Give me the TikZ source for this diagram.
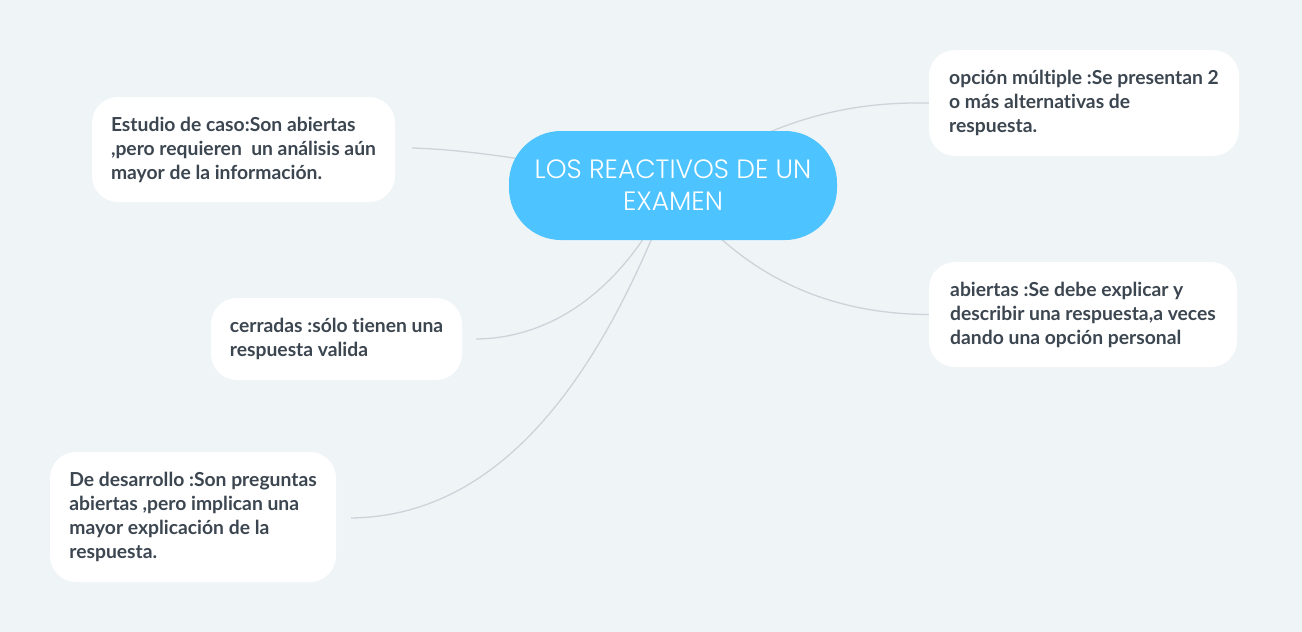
\documentclass[tikz,border=0pt]{standalone}
\usepackage{fontspec}
\setmainfont[Ligatures=NoCommon]{Lato}
\newfontfamily\titlefont{Poppins Light}
\usetikzlibrary{backgrounds}
\definecolor{bgcol}{HTML}{EFF4F7}
\definecolor{maincol}{HTML}{4DC3FF}
\definecolor{txtcol}{HTML}{3C4650}
\definecolor{linecol}{HTML}{CDD3D9}
\begin{document}
\begin{tikzpicture}[x=1pt,y=-1pt,
    idea/.style={fill=white,rounded corners=26pt,align=left,inner sep=0pt,
        text=txtcol,font=\bfseries\fontsize{19.3}{24}\selectfont},
    topic/.style={fill=maincol,rounded corners=52pt,align=center,inner sep=0pt,
        text=white,font=\titlefont\fontsize{26.5}{32}\selectfont},
    link/.style={draw=linecol,line width=1.3pt}]
    \useasboundingbox (0,0) rectangle (1302,632);

    % central topic
    \node [topic,minimum width=328pt,minimum height=109pt] (ctr) at (673,185.5)
        {LOS REACTIVOS DE UN\\EXAMEN};

    % ideas
    \node [idea,minimum width=303pt,minimum height=105pt] (caso) at (243.5,149.5)
        {Estudio de caso:Son abiertas\\,pero requieren\ \ un análisis aún\\mayor de la información.};
    \node [idea,minimum width=310pt,minimum height=106pt] (multi) at (1084,103)
        {opción múltiple :Se presentan 2\\o más alternativas de\\respuesta.};
    \node [idea,minimum width=308pt,minimum height=105pt] (abier) at (1083,314.5)
        {abiertas :Se debe explicar y\\describir una respuesta,a veces\\dando una opción personal};
    \node [idea,minimum width=251pt,minimum height=82pt] (cerr) at (336.5,339)
        {cerradas :sólo tienen una\\respuesta valida};
    \node [idea,minimum width=286pt,minimum height=130pt] (desa) at (193,517)
        {De desarrollo :Son preguntas\\abiertas ,pero implican una\\mayor explicación de la\\respuesta.};

    \begin{pgfonlayer}{background}
        \fill [bgcol] (0,0) rectangle (1302,632);
        \draw [link] ([xshift=17pt,yshift=1.5pt]caso.east) .. controls (480,150) and (560,165) .. (ctr.center);
        \draw [link] (ctr.center) .. controls (780,112) and (860,102) .. (multi.west);
        \draw [link] (ctr.center) .. controls (735,270) and (820,314) .. (abier.west);
        \draw [link] (ctr.center) .. controls (630,280) and (560,338) .. ([xshift=14pt]cerr.east);
        \draw [link] (ctr.center) .. controls (600,380) and (500,516) .. ([xshift=15pt,yshift=-1pt]desa.east);
    \end{pgfonlayer}
\end{tikzpicture}
\end{document}
